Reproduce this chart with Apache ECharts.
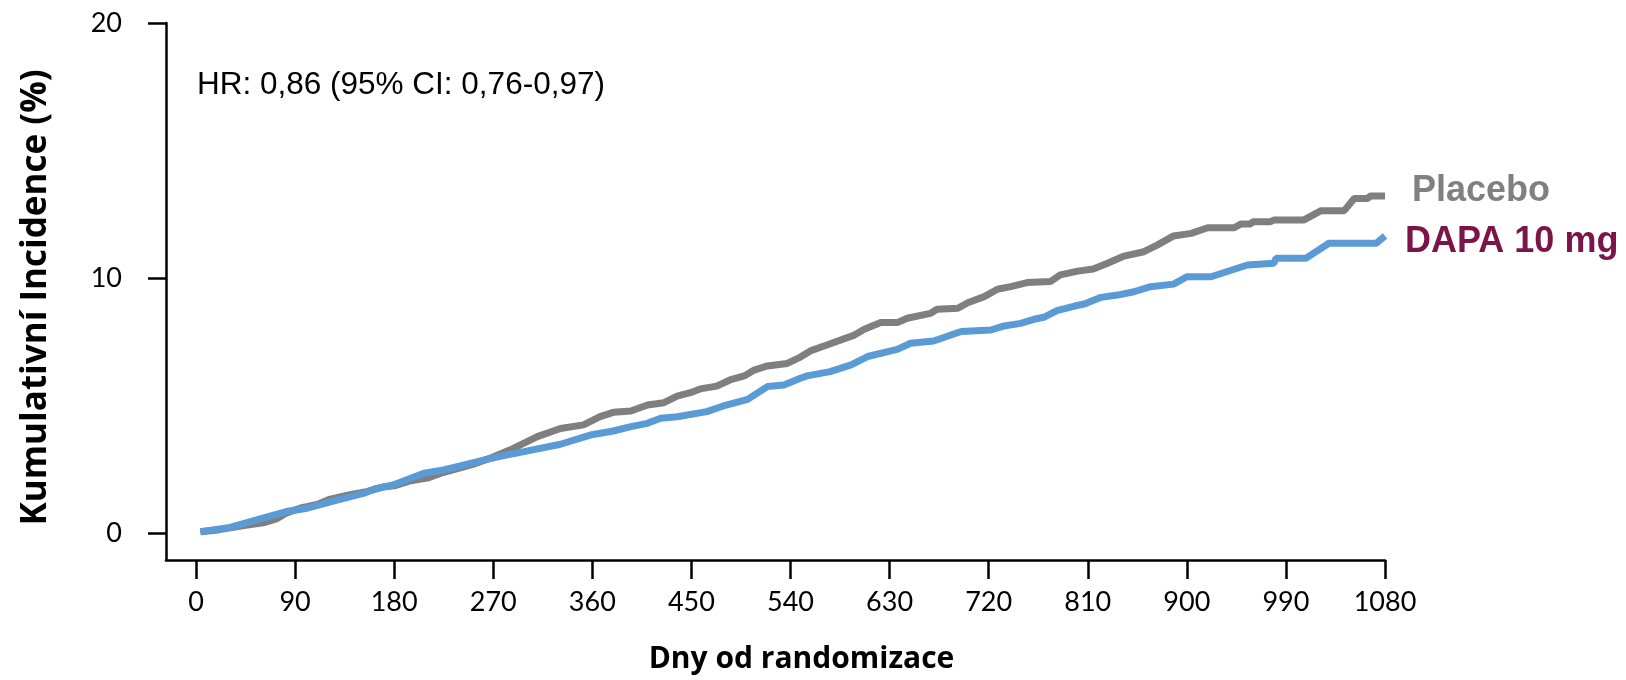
<!DOCTYPE html>
<html>
<head>
<meta charset="utf-8">
<script src="https://cdn.jsdelivr.net/npm/echarts@6/dist/echarts.min.js"></script>
<style>
  html, body { margin: 0; padding: 0; background: #fff; }
  #chart { width: 1626px; height: 680px; }
</style>
</head>
<body>
<div id="chart"></div>
<script>
// osa X: dny, osa Y: kumulativni incidence (%)
var xTicks = [0, 90, 180, 270, 360, 450, 540, 630, 720, 810, 900, 990, 1080];
var yTicks = [0, 10, 20];

var placeboDays = [4, 20, 31, 45, 61, 73, 82, 95, 110, 122, 140, 155, 170, 180, 195, 210, 225, 240, 252, 267,
    285, 310, 331, 352, 367, 379, 395, 410, 425, 437, 449, 458, 473, 485, 498, 507, 519, 537, 549, 558,
    573, 598, 607, 622, 637, 646, 667, 673, 692, 701, 716, 728, 740, 755, 776, 785, 801, 815, 828, 843,
    861, 873, 888, 904, 919, 943, 949, 958, 960, 976, 979, 1006, 1022, 1043, 1052, 1064, 1067, 1080];
var placeboValues = [0.05, 0.12, 0.2, 0.3, 0.4, 0.55, 0.78, 0.98, 1.12, 1.33, 1.5, 1.62, 1.8, 1.85, 2.05, 2.15, 2.38, 2.55, 2.7, 2.93,
    3.25, 3.78, 4.1, 4.24, 4.56, 4.73, 4.78, 5.02, 5.11, 5.37, 5.5, 5.65, 5.76, 6.0, 6.16, 6.39, 6.55, 6.65, 6.9, 7.14,
    7.37, 7.76, 7.99, 8.25, 8.25, 8.42, 8.61, 8.77, 8.81, 9.03, 9.27, 9.56, 9.66, 9.82, 9.86, 10.12, 10.27, 10.35, 10.58, 10.86,
    11.03, 11.29, 11.65, 11.75, 11.97, 11.97, 12.12, 12.12, 12.21, 12.21, 12.27, 12.27, 12.64, 12.64, 13.12, 13.12, 13.22, 13.22];

var dapaDays = [4, 31, 55, 82, 101, 128, 152, 164, 179, 207, 225, 252, 275, 298, 331, 358, 379, 395, 410, 422,
    437, 464, 479, 501, 519, 534, 549, 555, 576, 595, 610, 637, 649, 670, 695, 722, 734, 749, 761, 770,
    782, 798, 807, 822, 837, 852, 867, 888, 900, 922, 955, 979, 981, 1008, 1029, 1072, 1080];
var dapaValues = [0.05, 0.22, 0.51, 0.84, 0.97, 1.29, 1.55, 1.75, 1.88, 2.34, 2.47, 2.76, 3.0, 3.19, 3.48, 3.84, 4.0, 4.17, 4.3, 4.5,
    4.56, 4.76, 4.98, 5.24, 5.74, 5.8, 6.07, 6.16, 6.33, 6.59, 6.92, 7.2, 7.44, 7.53, 7.9, 7.96, 8.12, 8.22, 8.38, 8.46,
    8.72, 8.9, 8.98, 9.24, 9.33, 9.46, 9.66, 9.76, 10.05, 10.05, 10.51, 10.58, 10.77, 10.77, 11.36, 11.36, 11.65];

function zip(xs, ys) {
    var out = [];
    for (var i = 0; i < xs.length; i++) out.push([xs[i], ys[i]]);
    return out;
}

var chart = echarts.init(document.getElementById('chart'));
var option = {
    animation: false,
    backgroundColor: '#fff',
    title: {
        text: 'HR: 0,86 (95% CI: 0,76-0,97)',
        left: 192, top: 64,
        textStyle: { fontFamily: 'Liberation Sans', fontSize: 31.5, fontWeight: 'normal', color: '#000' }
    },
    grid: { left: 166, right: 241, top: 23, bottom: 120 },
    xAxis: {
        type: 'value',
        min: -27.27, max: 1080,
        name: 'Dny od randomizace',
        nameLocation: 'middle',
        nameGap: 84,
        nameTextStyle: { fontFamily: 'Open Sans', fontWeight: 'bold', fontSize: 30, color: '#000', padding: [0, 0, 0, 52] },
        axisLine: { onZero: false, lineStyle: { color: '#000', width: 2.5 } },
        axisTick: { show: true, length: 19, lineStyle: { color: '#000', width: 2.5 }, customValues: xTicks },
        axisLabel: {
            customValues: xTicks, margin: 29, fontFamily: 'Lato', fontSize: 27, color: '#000',
            formatter: function (v) { return String(v); }
        },
        splitLine: { show: false }
    },
    yAxis: {
        type: 'value',
        min: -1.06, max: 20,
        name: 'Kumulativní Incidence (%)',
        nameLocation: 'middle',
        nameGap: 112,
        nameTextStyle: { fontFamily: 'Open Sans', fontWeight: 'bold', fontSize: 35, color: '#000', padding: [0, 12, 0, 0] },
        axisLine: { show: true, onZero: false, lineStyle: { color: '#000', width: 2.5 } },
        axisTick: { show: true, length: 18, lineStyle: { color: '#000', width: 2.5 }, customValues: yTicks },
        axisLabel: {
            customValues: yTicks, margin: 44, fontFamily: 'Lato', fontSize: 27, color: '#000',
            formatter: function (v) { return String(v); }
        },
        splitLine: { show: false }
    },
    series: [
        {
            name: 'Placebo',
            type: 'line',
            data: zip(placeboDays, placeboValues),
            showSymbol: false,
            clip: false,
            lineStyle: { color: '#7f7f7f', width: 7 },
            endLabel: {
                show: true, formatter: 'Placebo', distance: 27, offset: [0, -5],
                fontFamily: 'Liberation Sans', fontWeight: 'bold', fontSize: 36, color: '#808080'
            }
        },
        {
            name: 'DAPA 10 mg',
            type: 'line',
            data: zip(dapaDays, dapaValues),
            showSymbol: false,
            clip: false,
            lineStyle: { color: '#5b9bd5', width: 7 },
            endLabel: {
                show: true, formatter: 'DAPA 10 mg', distance: 20, offset: [0, 6],
                fontFamily: 'Liberation Sans', fontWeight: 'bold', fontSize: 36, color: '#7b1448'
            }
        }
    ]
};
chart.setOption(option);
</script>
</body>
</html>
